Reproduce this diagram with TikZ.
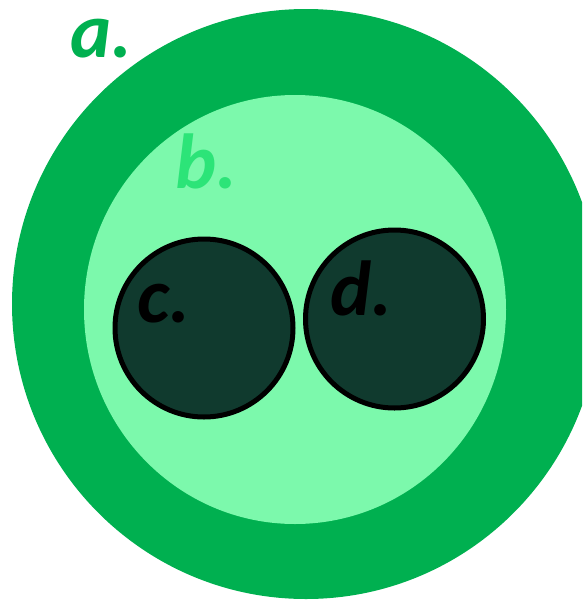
\documentclass[tikz,border=0pt]{standalone}
\usepackage{fontspec}
\setmainfont{Carlito}
\definecolor{outergreen}{RGB}{0,176,80}
\definecolor{innergreen}{RGB}{124,249,172}
\definecolor{darkcell}{RGB}{16,58,46}
\definecolor{labelb}{RGB}{44,228,120}
\tikzset{
  lbl/.style={anchor=base west, inner sep=0pt, font=\fontsize{78}{80}\selectfont\bfseries\itshape},
  cell/.style={fill=darkcell, draw=black, line width=5pt},
}
\begin{document}
\begin{tikzpicture}[x=1pt,y=-1pt]
\useasboundingbox (0,0) rectangle (582,600);
\begin{scope}
\clip (0,0) rectangle (582,600);
\fill[outergreen] (306,304) ellipse [x radius=294pt, y radius=295pt];
\fill[innergreen] (295,309.5) ellipse [x radius=211pt, y radius=214.5pt];
\draw[cell] (204,328) circle [radius=89pt];
\draw[cell] (394.5,319) circle [radius=89pt];
\end{scope}
\node[lbl, text=outergreen] (la) at (70,57) {a.};
\node[lbl, text=labelb] (lb) at (175,188) {b.};
\node[lbl, text=black] (lc) at (137,322) {c.};
\node[lbl, text=black] (ld) at (330,315) {d.};
\end{tikzpicture}
\end{document}
